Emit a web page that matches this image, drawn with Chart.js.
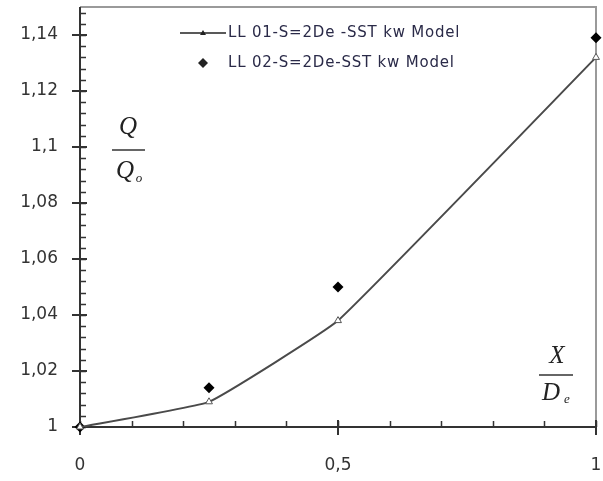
<!DOCTYPE html>
<html>
<head>
<meta charset="utf-8">
<script src="https://cdn.jsdelivr.net/npm/chart.js@4/dist/chart.umd.min.js"></script>
<style>
  html, body { margin: 0; padding: 0; background: #fff; }
  #wrap { width: 603px; height: 481px; }
</style>
</head>
<body>
<div id="wrap"><canvas id="chart" width="603" height="481"></canvas></div>
<script>
// Data
const xValues = [0, 0.25, 0.5, 1];
const ll01Values = [1, 1.009, 1.038, 1.132];   // LL 01 line with triangles
const ll02Values = [1, 1.014, 1.05, 1.139];    // LL 02 diamonds
const seriesNames = ['LL 01-S=2De -SST kw Model', 'LL 02-S=2De-SST kw Model'];
const xTickValues = [0, 0.5, 1];
const yTickValues = [1, 1.02, 1.04, 1.06, 1.08, 1.1, 1.12, 1.14];
const xMinorStep = 0.1;
const yMinorStep = 0.004;

const toPoints = (ys) => xValues.map((x, i) => ({ x: x, y: ys[i] }));
const commaFmt = (v) => String(v).replace('.', ',');

// frame, tick marks, fraction labels and legend
const decorations = {
    id: 'decorations',
    beforeDatasetsDraw(chart) {
        const ctx = chart.ctx;
        const a = chart.chartArea;
        const xs = chart.scales.x, ys = chart.scales.y;
        ctx.save();
        // light frame (top / right)
        ctx.strokeStyle = '#9a9a9a';
        ctx.lineWidth = 2;
        ctx.beginPath();
        ctx.moveTo(a.left, a.top);
        ctx.lineTo(a.right, a.top);
        ctx.lineTo(a.right, a.bottom);
        ctx.stroke();
        // axes
        ctx.strokeStyle = '#333';
        ctx.lineWidth = 2;
        ctx.beginPath();
        ctx.moveTo(a.left, a.top);
        ctx.lineTo(a.left, a.bottom);
        ctx.lineTo(a.right, a.bottom);
        ctx.stroke();
        // minor ticks (inside)
        ctx.lineWidth = 1.5;
        ctx.beginPath();
        for (let v = ys.min; v <= ys.max + 1e-9; v += yMinorStep) {
            const py = Math.round(ys.getPixelForValue(v)) + 0.5;
            ctx.moveTo(a.left, py);
            ctx.lineTo(a.left + 6, py);
        }
        for (let v = xs.min; v <= xs.max + 1e-9; v += xMinorStep) {
            const px = Math.round(xs.getPixelForValue(v)) + 0.5;
            ctx.moveTo(px, a.bottom);
            ctx.lineTo(px, a.bottom - 6);
        }
        ctx.stroke();
        // major ticks (crossing)
        ctx.lineWidth = 2;
        ctx.beginPath();
        yTickValues.forEach(v => {
            const py = Math.round(ys.getPixelForValue(v));
            ctx.moveTo(a.left - 8, py);
            ctx.lineTo(a.left + 7, py);
        });
        xTickValues.forEach(v => {
            const px = Math.round(xs.getPixelForValue(v));
            ctx.moveTo(px, a.bottom + 8);
            ctx.lineTo(px, a.bottom - 7);
        });
        ctx.stroke();
        ctx.restore();
    },
    afterDraw(chart) {
        const ctx = chart.ctx;
        ctx.save();
        // fraction labels
        ctx.fillStyle = '#222';
        ctx.strokeStyle = '#333';
        ctx.textAlign = 'center';
        ctx.textBaseline = 'middle';
        ctx.font = 'italic 25px "Liberation Serif"';
        ctx.fillText('Q', 128, 127);
        ctx.fillText('Q', 125, 171);
        ctx.font = 'italic 13px "Liberation Serif"';
        ctx.fillText('o', 139, 179);
        ctx.lineWidth = 1.5;
        ctx.beginPath();
        ctx.moveTo(112, 150); ctx.lineTo(145, 150);
        ctx.stroke();

        ctx.font = 'italic 25px "Liberation Serif"';
        ctx.fillText('X', 557, 356);
        ctx.fillText('D', 551, 393);
        ctx.font = 'italic 13px "Liberation Serif"';
        ctx.fillText('e', 567, 400);
        ctx.beginPath();
        ctx.moveTo(539, 375); ctx.lineTo(573, 375);
        ctx.stroke();

        // legend
        ctx.textAlign = 'left';
        ctx.font = '15px "DejaVu Sans"';
        ctx.fillStyle = '#2a2a48';
        if ('letterSpacing' in ctx) ctx.letterSpacing = '0.8px';
        ctx.fillText(seriesNames[0], 228, 33);
        ctx.fillText(seriesNames[1], 228, 63);
        if ('letterSpacing' in ctx) ctx.letterSpacing = '0px';
        ctx.strokeStyle = '#222';
        ctx.lineWidth = 1.5;
        ctx.beginPath();
        ctx.moveTo(180, 33); ctx.lineTo(226, 33);
        ctx.stroke();
        ctx.fillStyle = '#222';
        ctx.beginPath();
        ctx.moveTo(203, 30); ctx.lineTo(206, 35); ctx.lineTo(200, 35); ctx.closePath();
        ctx.fill();
        ctx.beginPath();
        ctx.moveTo(203, 58); ctx.lineTo(208, 63); ctx.lineTo(203, 68); ctx.lineTo(198, 63); ctx.closePath();
        ctx.fill();
        ctx.restore();
    }
};

new Chart(document.getElementById('chart'), {
    type: 'scatter',
    data: {
        datasets: [{
            label: seriesNames[0],
            data: toPoints(ll01Values),
            showLine: true,
            tension: 0.1,
            borderColor: '#4a4a4a',
            borderWidth: 2,
            pointStyle: 'triangle',
            pointRadius: 4,
            pointBorderWidth: 1,
            pointBorderColor: '#555',
            pointBackgroundColor: '#fff',
            clip: false
        }, {
            label: seriesNames[1],
            data: toPoints(ll02Values),
            showLine: false,
            pointStyle: 'rectRot',
            pointRadius: 5.5,
            pointBorderWidth: 0,
            pointBackgroundColor: '#000',
            pointBorderColor: '#000',
            clip: false
        }]
    },
    options: {
        responsive: false,
        animation: false,
        layout: { padding: { left: 0, top: 7, right: 7, bottom: 0 } },
        plugins: {
            legend: { display: false },
            tooltip: { enabled: false }
        },
        scales: {
            x: {
                type: 'linear',
                min: 0,
                max: 1,
                afterBuildTicks: (s) => { s.ticks = xTickValues.map(v => ({ value: v })); },
                afterFit: (s) => { s.height = 54; s.paddingLeft = 0; s.paddingRight = 0; },
                grid: { display: false, drawTicks: true, tickLength: 8 },
                border: { display: false },
                ticks: {
                    padding: 20,
                    maxRotation: 0,
                    color: '#333',
                    font: { family: '"DejaVu Sans"', size: 17 },
                    callback: commaFmt
                }
            },
            y: {
                type: 'linear',
                min: 1,
                max: 1.15,
                afterBuildTicks: (s) => { s.ticks = yTickValues.map(v => ({ value: v })); },
                afterFit: (s) => { s.width = 80; s.paddingTop = 0; s.paddingBottom = 0; },
                grid: { display: false, drawTicks: true, tickLength: 8 },
                border: { display: false },
                ticks: {
                    padding: 14,
                    color: '#333',
                    font: { family: '"DejaVu Sans"', size: 17 },
                    callback: commaFmt
                }
            }
        }
    },
    plugins: [decorations]
});
</script>
</body>
</html>
